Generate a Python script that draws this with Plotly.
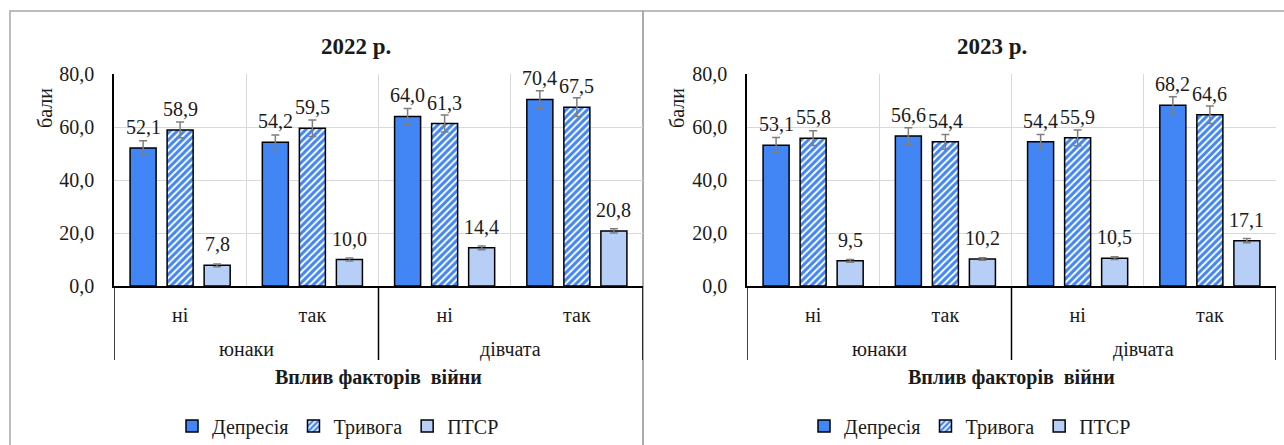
import plotly.graph_objects as go

# ---------------- data ----------------
series_names = ["Депресія", "Тривога", "ПТСР"]
inner_labels = ["ні", "так", "ні", "так"]
outer_labels = ["юнаки", "дівчата"]
years = ["2022 р.", "2023 р."]

dep_2022 = [52.1, 54.2, 64.0, 70.4]
anx_2022 = [58.9, 59.5, 61.3, 67.5]
ptsd_2022 = [7.8, 10.0, 14.4, 20.8]
dep_err_2022 = [2.7, 2.8, 3.0, 3.3]
anx_err_2022 = [3.0, 3.1, 3.2, 3.5]
ptsd_err_2022 = [0.5, 0.6, 0.7, 0.8]

dep_2023 = [53.1, 56.6, 54.4, 68.2]
anx_2023 = [55.8, 54.4, 55.9, 64.6]
ptsd_2023 = [9.5, 10.2, 10.5, 17.1]
dep_err_2023 = [2.9, 3.1, 2.8, 3.2]
anx_err_2023 = [2.8, 2.8, 3.0, 3.3]
ptsd_err_2023 = [0.5, 0.5, 0.5, 0.8]

y_ticks = [0, 20, 40, 60, 80]
# --------------------------------------

W, H = 1284, 445
FONT = "Liberation Serif"
FS = 20
TXT = "#1a1a1a"
BLUE = "#4285f4"
LIGHT = "#b7cff7"
GRID = "#d9d9d9"
BORDER = "#a6a6a6"

BARGAP = 0.16
GROUPGAP = 0.297
slot = (1 - BARGAP) / 3

def px_x(p):
    return p / W

def px_y(p):
    return 1 - p / H

panels = [
    dict(dep=dep_2022, anx=anx_2022, ptsd=ptsd_2022,
         errs=[dep_err_2022, anx_err_2022, ptsd_err_2022],
         dom=(114, 643), frame=(10, 643), title_x=356, legend_x=338, ylab_x=45),
    dict(dep=dep_2023, anx=anx_2023, ptsd=ptsd_2023,
         errs=[dep_err_2023, anx_err_2023, ptsd_err_2023],
         dom=(747, 1276), frame=(643, 1300), title_x=992, legend_x=970, ylab_x=677),
]

fig = go.Figure()
annotations = []
shapes = []
xcat = list(range(len(inner_labels)))

for pi, p in enumerate(panels):
    xa = "x" if pi == 0 else "x2"
    ya = "y" if pi == 0 else "y2"
    leg = "legend" if pi == 0 else "legend2"
    vals = [p["dep"], p["anx"], p["ptsd"]]
    markers = [
        dict(color=BLUE, line=dict(color="black", width=1.5)),
        dict(color=BLUE, pattern=dict(shape="/", fgcolor=BLUE, bgcolor="white",
                                      size=5, solidity=0.6, fgopacity=1),
             line=dict(color="black", width=1.5)),
        dict(color=LIGHT, line=dict(color="black", width=1.5)),
    ]
    for si in range(3):
        fig.add_trace(go.Bar(
            x=xcat, y=vals[si], name=series_names[si], marker=markers[si],
            xaxis=xa, yaxis=ya, legend=leg,
            error_y=dict(type="data", array=p["errs"][si], color="#7f7f7f",
                         thickness=1.5, width=4),
        ))
        for ci, v in enumerate(vals[si]):
            annotations.append(dict(
                x=ci + (si - 1) * slot, y=v, xref=xa, yref=ya,
                text=f"{v:.1f}".replace(".", ","), showarrow=False,
                xanchor="center", yanchor="bottom", yshift=8,
                font=dict(family=FONT, size=FS, color=TXT)))
    # outer category labels
    for oi, lab in enumerate(outer_labels):
        annotations.append(dict(
            x=oi * 2 + 0.5, y=px_y(349), xref=xa, yref="paper", text=lab,
            showarrow=False, xanchor="center", yanchor="middle",
            font=dict(family=FONT, size=FS, color=TXT)))
    # group dividers below the axis
    for dx in [-0.5, 1.5, 3.5]:
        shapes.append(dict(type="line", xref=xa, yref="paper", x0=dx, x1=dx,
                           y0=px_y(286), y1=px_y(360),
                           line=dict(color="black", width=1.5)))
    # axis title
    annotations.append(dict(
        x=(p["dom"][0] + p["dom"][1]) / 2 / W, y=px_y(377), xref="paper", yref="paper",
        text="<b>Вплив факторів  війни</b>", showarrow=False,
        xanchor="center", yanchor="middle",
        font=dict(family=FONT, size=FS, color=TXT)))
    # chart title
    annotations.append(dict(
        x=px_x(p["title_x"]), y=px_y(46), xref="paper", yref="paper",
        text=f"<b>{years[pi]}</b>", showarrow=False,
        xanchor="center", yanchor="middle",
        font=dict(family=FONT, size=23, color=TXT)))
    # y axis title
    annotations.append(dict(
        x=px_x(p["ylab_x"]), y=px_y(108), xref="paper", yref="paper",
        text="бали", textangle=-90, showarrow=False, yanchor="middle",
        xanchor="center",
        font=dict(family=FONT, size=FS, color=TXT)))
    # panel frame
    shapes.append(dict(type="rect", xref="paper", yref="paper",
                       x0=px_x(p["frame"][0]), x1=px_x(p["frame"][1]),
                       y0=-0.2, y1=px_y(11),
                       line=dict(color=BORDER, width=1.5), layer="below"))

def xaxis_cfg(dom):
    return dict(domain=[px_x(dom[0]), px_x(dom[1])], range=[-0.5, 3.5],
                tickmode="array", tickvals=xcat, ticktext=inner_labels,
                ticks="", showgrid=False, showline=True, linecolor="black",
                linewidth=1.5, ticklabelstandoff=10, zeroline=False,
                automargin=False,
                tickfont=dict(family=FONT, size=FS, color=TXT),
                minor=dict(tick0=0.5, dtick=1, showgrid=True, gridcolor=GRID,
                           gridwidth=1.2, ticks=""),
                fixedrange=True)

def yaxis_cfg(anchor):
    return dict(domain=[px_y(286), px_y(74)], range=[0, 80], tickmode="array",
                tickvals=y_ticks, tickformat=".1f", showgrid=True,
                gridcolor=GRID, gridwidth=1.2, showline=True, linecolor="black",
                linewidth=1.5, ticks="", zeroline=False, ticklabelstandoff=14,
                automargin=False,
                tickfont=dict(family=FONT, size=FS, color=TXT), anchor=anchor,
                fixedrange=True)

legend_common = dict(orientation="h", yanchor="middle", xanchor="center",
                     font=dict(family=FONT, size=FS, color=TXT),
                     itemwidth=30, bgcolor="rgba(0,0,0,0)", tracegroupgap=0)

fig.update_layout(
    width=W, height=H, margin=dict(l=0, r=0, t=0, b=0, autoexpand=False),
    paper_bgcolor="white", plot_bgcolor="white",
    barmode="group", bargap=BARGAP, bargroupgap=GROUPGAP,
    separators=", ",
    xaxis=xaxis_cfg(panels[0]["dom"]) | dict(anchor="y"),
    xaxis2=xaxis_cfg(panels[1]["dom"]) | dict(anchor="y2"),
    yaxis=yaxis_cfg("x"),
    yaxis2=yaxis_cfg("x2"),
    legend=legend_common | dict(x=px_x(panels[0]["legend_x"]), y=px_y(426)),
    legend2=legend_common | dict(x=px_x(panels[1]["legend_x"]), y=px_y(426)),
    annotations=annotations, shapes=shapes,
    font=dict(family=FONT, color=TXT),
)

fig.write_html("out.html", config={"displayModeBar": False})
